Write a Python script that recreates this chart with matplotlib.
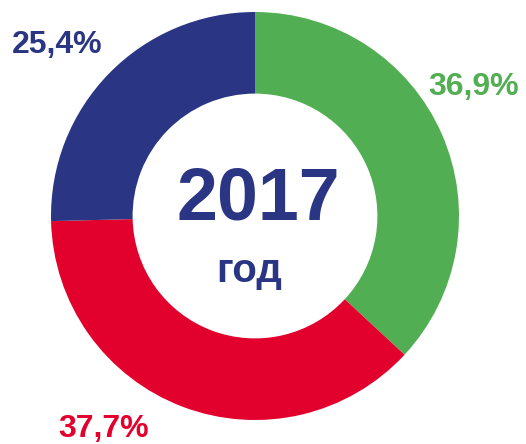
import matplotlib
matplotlib.use("Agg")
import matplotlib.pyplot as plt

labels = ["36,9%", "37,7%", "25,4%"]
values = [36.9, 37.7, 25.4]
colors = ["#52AE52", "#E2002C", "#2A3683"]
center_title = "2017"
center_sub = "год"

W, H = 526, 444
fig = plt.figure(figsize=(W / 100, H / 100), dpi=100)
ax = fig.add_axes([0, 0, 1, 1])
ax.set_xlim(0, W)
ax.set_ylim(0, H)
ax.set_aspect("equal")
ax.axis("off")

cx, cy = 255, H - 216
R = 204
ax.pie(values, colors=colors, startangle=90, counterclock=False,
       center=(cx, cy), radius=R, frame=True,
       wedgeprops=dict(width=R * 0.40, linewidth=0))
ax.set_xlim(0, W)
ax.set_ylim(0, H)
ax.axis("off")

font = ["Liberation Sans", "DejaVu Sans"]
label_pos = [(474, 87), (104, 429), (57, 45)]
for lab, col, (x, y) in zip(labels, colors, label_pos):
    ax.text(x, H - y, lab, color=col, fontsize=23, fontweight="bold",
            family=font, ha="center", va="center")

ax.text(258, H - 200, center_title, color="#2A3683", fontsize=53,
        fontweight="bold", family=font, ha="center", va="center")
ax.text(249, H - 271, center_sub, color="#2A3683", fontsize=29,
        fontweight="bold", family=font, ha="center", va="center")

fig.savefig("out.png", dpi=100)
